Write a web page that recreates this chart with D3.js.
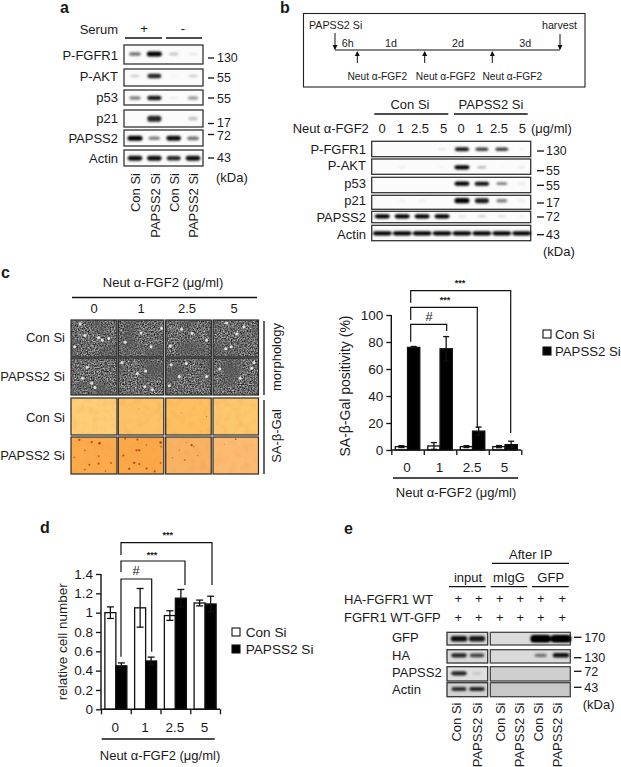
<!DOCTYPE html>
<html><head><meta charset="utf-8">
<script src="https://cdn.jsdelivr.net/npm/d3@7"></script>
<style>
html,body{margin:0;padding:0;background:#fff}
text{font-family:"Liberation Sans",Arial,sans-serif;fill:#1a1a1a}
</style></head><body><svg id="fig" width="621" height="767" xmlns="http://www.w3.org/2000/svg"></svg>
<script>
// ---------- DATA ----------
const doseLabels = ["0","1","2.5","5"];
const seriesNames = ["Con Si","PAPSS2 Si"];
const unitTitle = "Neut α-FGF2 (μg/ml)";

// panel a : band intensity 0..1, one value per lane
const aProteins = ["P-FGFR1","P-AKT","p53","p21","PAPSS2","Actin"];
const aKda = ["130","55","55","17","72","43"];
const aLanes = ["Con Si","PAPSS2 Si","Con Si","PAPSS2 Si"];
const aPFGFR1 = [.55,1,.22,.08];
const aPAKT = [.18,.85,.03,.18];
const aP53 = [.5,.9,.05,.38];
const aP21 = [0,.85,0,.22];
const aPAPSS2 = [1,.5,.95,.55];
const aActin = [.95,.95,.85,.95];

// panel b
const bProteins = ["P-FGFR1","P-AKT","p53","p21","PAPSS2","Actin"];
const bKda = ["130","55","55","17","72","43"];
const bDoses = ["0","1","2.5","5","0","1","2.5","5"];
const bPFGFR1 = [0,0,0,.12,.9,.75,.75,.05];
const bPAKT = [0,.08,0,.05,1,.3,.02,.1];
const bP53 = [0,0,0,0,1,.95,.5,.1];
const bP21 = [0,.05,.07,0,1,.9,.5,.08];
const bPAPSS2 = [1,1,1,1,.12,.2,.15,.05];
const bActin = [1,1,1,1,1,1,1,1];

// panel c bar chart
const cConValues = [2.5,3,2.5,2.5];
const cConErrors = [.7,2.5,.7,.8];
const cPapValues = [76,75,14,4];
const cPapErrors = [.7,9,3,2.5];
const cTicks = [0,20,40,60,80,100];

// panel c micrographs: bright cells and stained dots, as fractions of each picture
const morphSpots = [
 [[.08,.72],[.6,.47],[.68,.55],[.2,.1],[.3,.42],[.82,.5]],
 [[.15,.6],[.72,.72],[.95,.22],[.5,.35]],
 [[.1,.7],[.58,.36],[.35,.25],[.9,.55]],
 [[.3,.08],[.52,.38],[.68,.18],[.28,.78],[.4,.72]],
 [[.35,.25],[.45,.68],[.52,.8],[.25,.55]],
 [[.08,.12],[.42,.42],[.6,.35],[.58,.78],[.75,.85]],
 [[.12,.18],[.45,.15],[.3,.5],[.9,.5],[.08,.75]],
 [[.15,.3],[.85,.28],[.6,.55],[.9,.12]]
];
const galBase = ["#fdcd78","#fcc268","#fcc062","#fdc76e","#fbab4c","#faa848","#f8b264","#fcbb72"];
const galDots = [
 [],[[.45,.3,.15]],[[.9,.5,.3],[.35,.4,.12]],[],
 [[.18,.08,.8],[.45,.14,.7],[.62,.17,.9],[.3,.36,.5],[.07,.55,.5],[.6,.52,.5],[.4,.75,.7],[.6,.72,.7],[.87,.7,.6],[.3,.88,.5],[.75,.92,.5]],
 [[.15,.05,.6],[.42,.07,.7],[.93,.15,.9],[.11,.5,.7],[.4,.36,.8],[.46,.36,.8],[.62,.22,.4],[.35,.7,.8],[.46,.73,.7],[.62,.85,.7],[.24,.86,.8],[.8,.93,.7],[.93,.7,.5],[.94,.26,.5]],
 [[.57,.22,.8],[.62,.26,.4],[.42,.62,.5],[.15,.56,.3],[.3,.36,.3],[.7,.5,.3],[.45,.15,.25]],
 [[.5,.06,.5],[.25,.2,.15]]
];

// panel d bar chart
const dConValues = [1,1.05,.97,1.1];
const dConErrors = [.06,.2,.05,.03];
const dPapValues = [.45,.5,1.15,1.09];
const dPapErrors = [.03,.04,.09,.08];
const dTicks = [0,.2,.4,.6,.8,1,1.2,1.4];

// panel e
const eProteins = ["GFP","HA","PAPSS2","Actin"];
const eKda = ["170","130","72","43"];
const eLanes = ["Con Si","PAPSS2 Si","Con Si","PAPSS2 Si","Con Si","PAPSS2 Si"];
const eGFP = [.95,.9,0,0,1,1];
const eHA = [.85,.72,0,0,.5,.95];
const ePAPSS2 = [.85,.15,0,0,0,0];
const eActin = [.8,.85,0,0,0,0];

// ---------- HELPERS ----------
const svg = d3.select("#fig");
const defs = svg.append("defs");
defs.append("filter").attr("id","blur").attr("x","-30%").attr("y","-80%").attr("width","160%").attr("height","260%")
  .append("feGaussianBlur").attr("stdDeviation",.8);
defs.append("filter").attr("id","soft").attr("x","-60%").attr("y","-60%").attr("width","220%").attr("height","220%")
  .append("feGaussianBlur").attr("stdDeviation",.5);

function T(x,y,s,o={}){
  const el = svg.append("text").attr("x",x).attr("y",y).attr("dy",".36em")
    .attr("font-size",o.size||13).attr("text-anchor",o.anchor||"start").text(s);
  if(o.weight) el.attr("font-weight",o.weight);
  if(o.rot!==undefined) el.attr("transform",`rotate(${o.rot} ${x} ${y})`);
  return el;
}
function L(x1,y1,x2,y2,w=1.3,c="#111"){
  svg.append("line").attr("x1",x1).attr("y1",y1).attr("x2",x2).attr("y2",y2)
    .attr("stroke",c).attr("stroke-width",w);
}
function blot(rows,scale,o){
  const op = d3.scaleLinear([0,1],[0,o.maxOp||1]);
  const wd = d3.scaleLinear([0,1],[o.wMin,o.wMax]);
  const ht = d3.scaleLinear([0,1],[o.hMin,o.hMax]);
  rows.forEach(r=>{
    if(r.frame){
      svg.append("rect").attr("x",r.frame[0]).attr("y",r.y0).attr("width",r.frame[1]-r.frame[0]).attr("height",r.y1-r.y0)
        .attr("fill",r.fill||"#fbfbfb").attr("stroke","#333").attr("stroke-width",1.3);
    }
    svg.append("g").attr("filter","url(#blur)").selectAll("rect").data(r.values.map((v,i)=>({v,i})).filter(d=>d.v>0))
      .join("rect")
      .attr("x",d=>scale(d.i)-wd(d.v)*(r.wk||1)/2)
      .attr("y",d=>r.band-ht(d.v)*(r.hk||1)/2)
      .attr("width",d=>wd(d.v)*(r.wk||1))
      .attr("height",d=>ht(d.v)*(r.hk||1))
      .attr("rx",2.5)
      .attr("fill","#000").attr("opacity",d=>op(d.v));
  });
}
function barChart(o){
  const y = d3.scaleLinear(o.domain,[o.y0,o.y1]);
  const xb = d3.scaleBand(doseLabels,[o.x0,o.x1]);
  const xs = d3.scaleBand(seriesNames,[0,o.inner]);
  const off = (xb.bandwidth()-o.inner)/2;
  const edges = d3.scaleLinear([0,doseLabels.length],[o.x0,o.x1]);
  const g = svg.append("g");
  [[o.con,o.conE,"#fff",seriesNames[0]],[o.pap,o.papE,"#000",seriesNames[1]]].forEach(([vals,errs,fill,name])=>{
    const data = doseLabels.map((d,i)=>({d,v:vals[i],e:errs[i]}));
    const cx = d=>xb(d.d)+off+xs(name)+xs.bandwidth()/2;
    g.append("g").selectAll("rect").data(data).join("rect")
      .attr("x",d=>xb(d.d)+off+xs(name)).attr("y",d=>y(d.v))
      .attr("width",xs.bandwidth()).attr("height",d=>y(0)-y(d.v))
      .attr("fill",fill).attr("stroke","#111").attr("stroke-width",1.3);
    const eb = g.append("g").attr("stroke","#111").attr("stroke-width",1.3);
    eb.selectAll(".v").data(data).join("line").attr("x1",cx).attr("x2",cx).attr("y1",d=>y(d.v-d.e)).attr("y2",d=>y(d.v+d.e));
    eb.selectAll(".t").data(data).join("line").attr("x1",d=>cx(d)-o.cap).attr("x2",d=>cx(d)+o.cap).attr("y1",d=>y(d.v+d.e)).attr("y2",d=>y(d.v+d.e));
    eb.selectAll(".b").data(data).join("line").attr("x1",d=>cx(d)-o.cap).attr("x2",d=>cx(d)+o.cap).attr("y1",d=>y(d.v-d.e)).attr("y2",d=>y(d.v-d.e));
  });
  const yAxis = d3.axisLeft(y).tickValues(o.ticks).tickSize(5).tickPadding(3).tickFormat(d=>String(+d.toFixed(1)));
  const xAxis = d3.axisBottom(edges).tickValues(d3.range(doseLabels.length+1)).tickSize(5).tickFormat("");
  const ya = svg.append("g").attr("transform",`translate(${o.x0},0)`).call(yAxis);
  const xa = svg.append("g").attr("transform",`translate(0,${o.y0})`).call(xAxis);
  [ya,xa].forEach(a=>{a.selectAll("path,line").attr("stroke","#111").attr("stroke-width",1.3);a.select(".domain").attr("d",null);});
  L(o.x0,o.y0,o.x1,o.y0,1.4); L(o.x0,o.y0,o.x0,o.y1,1.4);
  ya.selectAll("text").attr("font-size",13.5).attr("fill","#1a1a1a").attr("font-family",'"Liberation Sans",Arial,sans-serif');
  doseLabels.forEach(d=>T(xb(d)+xb.bandwidth()/2-.5,o.labY,d,{anchor:"middle",size:13.5}));
}
function bracket(x1,x2,y,d1,d2){
  svg.append("path").attr("d",`M${x1},${d1}V${y}H${x2}V${d2}`).attr("fill","none").attr("stroke","#111").attr("stroke-width",1.2);
}
const legend=(x,y1,y2,tx,size,h)=>{
  [[y1,"#fff",seriesNames[0]],[y2,"#000",seriesNames[1]]].forEach(([y,f,s])=>{
    svg.append("rect").attr("x",x).attr("y",y-h/2).attr("width",h).attr("height",h).attr("fill",f).attr("stroke","#111").attr("stroke-width",1.1);
    T(tx,y,s,{size});
  });
};

// ---------- PANEL LETTERS ----------
[["a",60,7],["b",280,7],["c",1,272],["d",40,527],["e",344,528]].forEach(([s,x,y])=>T(x,y,s,{size:16,weight:"bold"}));

// ---------- PANEL A ----------
T(118,29,"Serum",{anchor:"end"});
T(144,28,"+",{anchor:"middle"}); T(183,28,"-",{anchor:"middle"});
L(125,38,162,38,1.4); L(166,38,202,38,1.4);
const aX = d3.scalePoint(d3.range(4),[135,193]);
const aFrames=[[45,64,54],[69,86,76],[90,105,98],[110,127,118.7],[130,146,138.3],[150,166,158.3]];
const aVals=[aPFGFR1,aPAKT,aP53,aP21,aPAPSS2,aActin];
blot(aFrames.map((f,i)=>({y0:f[0],y1:f[1],band:f[2],values:aVals[i],frame:[124,203],hk:i==3?1.3:1})),aX,{wMin:8,wMax:15,hMin:2.2,hMax:5});
aFrames.forEach((f,i)=>T(118,[55,76,97,118,138,158][i],aProteins[i],{anchor:"end"}));
[58,78,99,122.5,136,158].forEach((y,i)=>{L(208,[58,78,98,123.5,134.5,158][i],214,[58,78,98,123.5,134.5,158][i],1.3);T(217,y,aKda[i],{size:12.4});});
T(216,177,"(kDa)");
aLanes.forEach((s,i)=>T(aX(i)+.5,173,s,{anchor:"end",rot:-90}));

// ---------- PANEL B ----------
svg.append("rect").attr("x",303.5).attr("y",13.5).attr("width",281.5).attr("height",73.5).attr("fill","#fff").attr("stroke","#222").attr("stroke-width",1.1);
T(309,24.7,"PAPSS2 Si",{size:10.7}); T(577,24.7,"harvest",{size:10.7,anchor:"end"});
[["6h",347.7],["1d",391],["2d",458],["3d",525.3]].forEach(([s,x])=>T(x,43,s,{size:10.7,anchor:"middle"}));
L(335,50,560,50,1.1);
function arrow(x,y1,y2){L(x,y1,x,y2,1);const d=y2>y1?1:-1;svg.append("path").attr("d",`M${x-2.5},${y2-4*d}L${x},${y2+d}L${x+2.5},${y2-4*d}Z`).attr("fill","#111");}
arrow(335,33,49); arrow(560,34,49);
[357.3,424.7,492.3].forEach((x,i)=>{arrow(x,63,52);T([377.3,445.7,512.3][i],76.3,"Neut α-FGF2",{size:10.2,anchor:"middle"});});
T(410,104.7,"Con Si",{anchor:"middle"}); T(491,104.7,"PAPSS2 Si",{anchor:"middle"});
L(374.3,114,448.3,114,1.3); L(454,114,527.7,114,1.3);
T(292.7,128,"Neut α-FGF2");
const bX = d3.scalePoint(d3.range(8),[382.3,521.7]);
bDoses.forEach((s,i)=>T([382,400.3,420,443.7,461,479.3,499,522.3][i],128,s,{anchor:"middle"}));
T(531,128,"(μg/ml)");
const bFrames=[[141.3,156.7,149.3],[159,174.3,167.3],[177.3,192.7,183.7],[195.3,209.3,200.7],[211.3,222.7,216.3],[225.3,240.7,233.3]];
const bVals=[bPFGFR1,bPAKT,bP53,bP21,bPAPSS2,bActin];
blot(bFrames.map((f,i)=>({y0:f[0],y1:f[1],band:f[2],values:bVals[i],frame:[371.7,530.7],wk:i==5?1.25:1,hk:i==3?1.25:1})),bX,{wMin:7,wMax:15,hMin:1.4,hMax:4.2});
[149.7,165.7,183.3,200.7,217.3,234.3].forEach((y,i)=>T(366,y,bProteins[i],{anchor:"end"}));
[151,170.7,185.3,203,217,234.7].forEach((y,i)=>{L(537,y,544,y,1.3);T(546,y,bKda[i],{size:12.4});});
T(543,251,"(kDa)");

// ---------- PANEL C MICROGRAPHS ----------
T(163,282,unitTitle,{anchor:"middle"}); L(72,297.5,257,297.5,1.3);
doseLabels.forEach((s,i)=>T([94,141,187,234][i],308,s,{anchor:"middle"}));
const colX=[71,118.3,165.7,213], colW=[46,45.5,45.5,45.5];
const rowY=[320,358,398,437], rowH=[37,37,37,37];
const rad=d3.scaleLinear([0,1],[.5,1.3]);
for(let r=0;r<4;r++) for(let c=0;c<4;c++){
  const morph=r<2, idx=(r%2)*4+c, id=`ph${r}${c}`;
  const fx=colX[c], fy=rowY[r], fw=colW[c], fh=rowH[r];
  const f=defs.append("filter").attr("id",id).attr("x",0).attr("y",0).attr("width",1).attr("height",1)
    .attr("color-interpolation-filters","sRGB");
  if(morph){
    f.append("feTurbulence").attr("type","fractalNoise").attr("baseFrequency",.7).attr("numOctaves",2).attr("seed",11+idx).attr("result","n");
    f.append("feColorMatrix").attr("in","n").attr("type","matrix").attr("values","0 0 0 1.1 -.13  0 0 0 1.1 -.13  0 0 0 1.1 -.13  0 0 0 0 1").attr("result","g0");
    f.append("feGaussianBlur").attr("in","g0").attr("stdDeviation",.35).attr("result","g");
    f.append("feTurbulence").attr("type","fractalNoise").attr("baseFrequency",.05).attr("numOctaves",1).attr("seed",31+idx).attr("result","m");
    f.append("feColorMatrix").attr("in","m").attr("type","matrix").attr("values","0 0 0 0 .34  0 0 0 0 .34  0 0 0 0 .34  0 0 0 2.4 -1.1").attr("result","patch");
    const mg=f.append("feMerge"); mg.append("feMergeNode").attr("in","g"); mg.append("feMergeNode").attr("in","patch");
  } else {
    f.append("feTurbulence").attr("type","fractalNoise").attr("baseFrequency",.14).attr("numOctaves",3).attr("seed",51+idx).attr("result","n");
    f.append("feColorMatrix").attr("in","n").attr("type","matrix").attr("values","0 0 0 0 .95  0 0 0 0 .55  0 0 0 0 .15  0 0 0 .45 -.2").attr("result","tint");
    const mg=f.append("feMerge"); mg.append("feMergeNode").attr("in","SourceGraphic"); mg.append("feMergeNode").attr("in","tint");
  }
  svg.append("rect").attr("x",fx).attr("y",fy).attr("width",fw).attr("height",fh)
    .attr("fill",morph?"#6c6c6c":galBase[idx]).attr("filter",`url(#${id})`);
  const sx=d3.scaleLinear([0,1],[fx,fx+fw]), sy=d3.scaleLinear([0,1],[fy,fy+fh]);
  if(morph){
    const k=r*4+c;
    svg.append("g").attr("filter","url(#soft)").selectAll("circle").data(morphSpots[k]).join("circle")
      .attr("cx",d=>sx(d[0])).attr("cy",d=>sy(d[1])).attr("r",1.5).attr("fill","#e4e4e4");
  } else {
    svg.append("g").attr("filter","url(#soft)").selectAll("circle").data(galDots[idx]).join("circle")
      .attr("cx",d=>sx(d[0])).attr("cy",d=>sy(d[1])).attr("r",d=>rad(d[2])).attr("fill","#b82c08").attr("opacity",d=>.25+.75*d[2]);
  }
  svg.append("rect").attr("x",fx).attr("y",fy).attr("width",fw).attr("height",fh).attr("fill","none").attr("stroke","#2a2a2a").attr("stroke-width",1.2);
}
["Con Si","PAPSS2 Si","Con Si","PAPSS2 Si"].forEach((s,i)=>T(65,[337,376,417,455][i],s,{anchor:"end"}));
L(264,321,264,395,1.3); L(264,400,264,474,1.3);
T(276,357,"morphology",{anchor:"middle",rot:-90}); T(276,436,"SA-β-Gal",{anchor:"middle",rot:-90});

// ---------- PANEL C CHART ----------
barChart({domain:[0,100],y0:450,y1:315,x0:391.3,x1:521.3,inner:24.5,con:cConValues,conE:cConErrors,pap:cPapValues,papE:cPapErrors,ticks:cTicks,cap:3,labY:467});
bracket(410.7,510.7,290.7,302.7,433); bracket(410.7,477.3,307.3,320,428); bracket(410.7,446.7,324.3,341.7,331);
T(460,282.5,"***",{anchor:"middle",size:9,weight:"bold"}); T(445,300,"***",{anchor:"middle",size:9,weight:"bold"}); T(429,316,"#",{anchor:"middle",size:13});
L(393,478,518,478,1.3); T(456,492,unitTitle,{anchor:"middle"});
T(345,386,"SA-β-Gal positivity (%)",{anchor:"middle",rot:-90,size:14});
legend(543,334,351,555,13.2,8);

// ---------- PANEL D ----------
barChart({domain:[0,1.4],y0:709.3,y1:574,x0:101,x1:220,inner:22,con:dConValues,conE:dConErrors,pap:dPapValues,papE:dPapErrors,ticks:dTicks,cap:3.5,labY:726.7});
bracket(121,212,542.7,555,585); bracket(121,185,561,572,585); bracket(121,151.7,579,656.7,651.7);
T(167.7,535,"***",{anchor:"middle",size:9,weight:"bold"}); T(152,555,"***",{anchor:"middle",size:9,weight:"bold"}); T(136,570,"#",{anchor:"middle",size:13});
L(101.7,739,214.7,739,1.3); T(160,755,unitTitle,{anchor:"middle"});
T(61.7,641.7,"relative cell number",{anchor:"middle",rot:-90,size:13.5});
legend(232,632,649,245.7,13.6,8);

// ---------- PANEL E ----------
T(530.7,554,"After IP",{anchor:"middle"}); L(492,563.3,569,563.3,1.3);
[["input",468,449,485.7],["mIgG",509,490.7,527.3],["GFP",550.7,532,568.7]].forEach(([s,x,a,b])=>{T(x,577,s,{anchor:"middle"});L(a,586.7,b,586.7,1.3);});
T(344,599,"HA-FGFR1 WT"); T(344,617.3,"FGFR1 WT-GFP");
[458.3,478.7,499.7,520.3,540.7,562.3].forEach(x=>{T(x,598.5,"+",{anchor:"middle",size:13});T(x,617.5,"+",{anchor:"middle",size:13});});
const eXL=d3.scalePoint([0,1],[459,477]), eXR=d3.scalePoint([2,3,4,5],[500,561]);
const eX=i=>i<2?eXL(i):eXR(i);
const eFrames=[[632.3,645,638.7],[649.7,663,655.3],[666.7,681,673.3],[682.7,696.7,689]];
const eVals=[eGFP,eHA,ePAPSS2,eActin];
const eFill=["#dcdcdc","#dadada","#cfcfcf","#c8c8c8"], eFillL=["#d8d8d8","#dadada","#e0e0e0","#d2d2d2"];
eFrames.forEach((f,i)=>{
  svg.append("rect").attr("x",447).attr("y",f[0]).attr("width",40.7).attr("height",f[1]-f[0]).attr("fill",eFillL[i]).attr("stroke","#333").attr("stroke-width",1.3);
  svg.append("rect").attr("x",490.3).attr("y",f[0]).attr("width",80).attr("height",f[1]-f[0]).attr("fill",eFill[i]).attr("stroke","#444").attr("stroke-width",1.3);
});
blot(eFrames.map((f,i)=>({y0:f[0],y1:f[1],band:f[2],values:eVals[i],hk:i==0?1.25:1})),eX,{wMin:8,wMax:17,hMin:1.8,hMax:4.6});
// wider GFP bands of the pull-down lanes
blot([{band:638.7,values:[0,0,0,0,1,1],hk:1.5,wk:1.2}],eX,{wMin:8,wMax:17,hMin:2,hMax:4.6});
[637.7,655,672.3,689.7].forEach((y,i)=>T(392,y,eProteins[i]));
[637.3,657.7,671.3,687.3].forEach((y,i)=>{L(574,y,581.5,y,1.3);T(584.3,y,eKda[i],{size:12.6});});
T(582.7,704.3,"(kDa)");
[456.7,477.3,500.3,519,538.3,557.3].forEach((x,i)=>T(x,702.5,eLanes[i],{anchor:"end",rot:-90}));
</script></body></html>
